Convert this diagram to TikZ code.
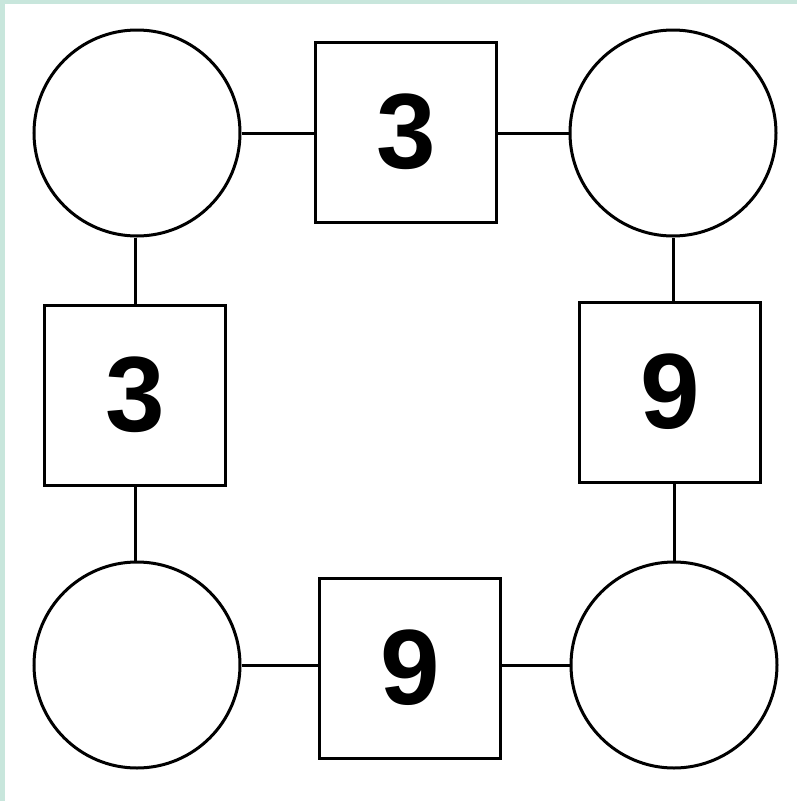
\documentclass[tikz,border=0pt]{standalone}
\usepackage{fontspec}
\setmainfont{Liberation Sans}
\definecolor{edge}{HTML}{C8E6DC}
\begin{document}
\begin{tikzpicture}[x=1pt,y=-1pt,
  ring/.style={circle,draw=black,line width=3pt,minimum size=206pt,inner sep=0pt,fill=white},
  numbox/.style={rectangle,draw=black,line width=3pt,minimum width=181pt,minimum height=180pt,inner sep=0pt,fill=white,font=\fontsize{107}{107}\selectfont\bfseries},
  link/.style={line width=3pt}]
\useasboundingbox (0,0) rectangle (797,801);
\fill[white] (0,0) rectangle (797,801);
\fill[edge] (0,0) rectangle (5,801);
\fill[edge] (0,0) rectangle (797,4);
\node[ring] (tl) at (137,133) {};
\node[ring] (tr) at (673,133) {};
\node[ring] (bl) at (137,665) {};
\node[ring] (br) at (674,665) {};
\node[numbox] (bt) at (406,132) {3};
\node[numbox] (bL) at (135,395) {3};
\node[numbox] (bR) at (670,392) {9};
\node[numbox] (bb) at (410,668) {9};
\begin{scope}[on background layer/.try]
\end{scope}
\draw[link] (tl.east) -- (bt.west |- tl.east);
\draw[link] (bt.east |- tr.west) -- (tr.west);
\draw[link] (tl.south -| bL.north) -- (bL.north);
\draw[link] (bL.south) -- (bl.north -| bL.south);
\draw[link] (tr.south) -- (bR.north -| tr.south);
\draw[link] (bR.south -| br.north) -- (br.north);
\draw[link] (bl.east) -- (bb.west |- bl.east);
\draw[link] (bb.east |- br.west) -- (br.west);
\end{tikzpicture}
\end{document}
